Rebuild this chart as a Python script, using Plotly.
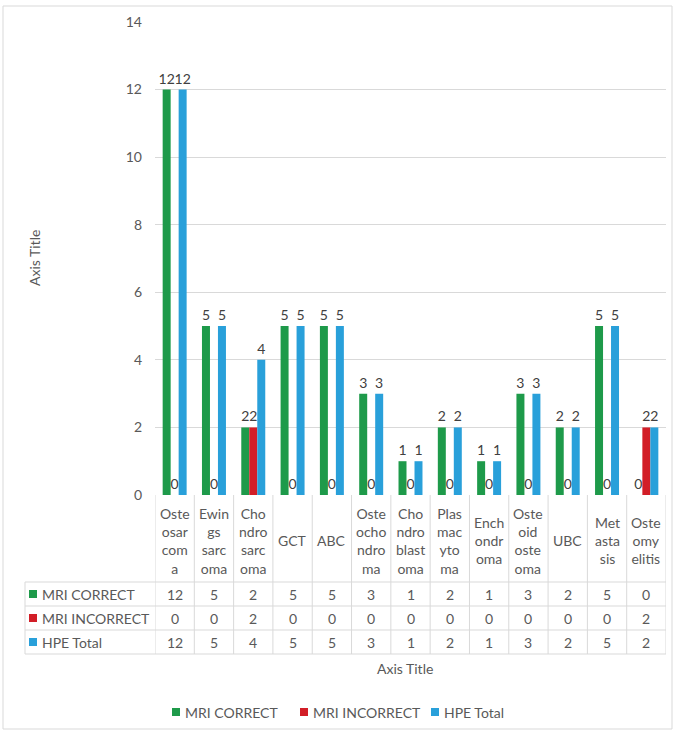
import plotly.graph_objects as go

# Diagnoses (full names) and the wrapped labels shown in the data table header
categories = ["Osteosarcoma", "Ewings sarcoma", "Chondrosarcoma", "GCT", "ABC",
              "Osteochondroma", "Chondroblastoma", "Plasmacytoma", "Enchondroma",
              "Osteoid osteoma", "UBC", "Metastasis", "Osteomyelitis"]
tick_labels = ["Oste<br>osar<br>com<br>a", "Ewin<br>gs<br>sarc<br>oma", "Cho<br>ndro<br>sarc<br>oma",
               "GCT", "ABC", "Oste<br>ocho<br>ndro<br>ma", "Cho<br>ndro<br>blast<br>oma",
               "Plas<br>mac<br>yto<br>ma", "Ench<br>ondr<br>oma", "Oste<br>oid<br>oste<br>oma",
               "UBC", "Met<br>asta<br>sis", "Oste<br>omy<br>elitis"]

series_names = ["MRI CORRECT", "MRI INCORRECT", "HPE Total"]
mri_correct = [12, 5, 2, 5, 5, 3, 1, 2, 1, 3, 2, 5, 0]
mri_incorrect = [0, 0, 2, 0, 0, 0, 0, 0, 0, 0, 0, 0, 2]
hpe_total = [12, 5, 4, 5, 5, 3, 1, 2, 1, 3, 2, 5, 2]
series_values = [mri_correct, mri_incorrect, hpe_total]
series_colors = ["#1E9A4A", "#D21E27", "#29A0DA"]

y_ticks = [0, 2, 4, 6, 8, 10, 12, 14]

W, H = 676, 732
TXT = "#595959"
FONT = "Lato, 'Liberation Sans', sans-serif"
GRID = "#D9D9D9"
FS = 14

def px_x(p):
    return p / W

def px_y(p):
    return 1 - p / H

# Plot-area and table geometry (pixels)
PL, PR, PT, PB = 155, 666, 22, 495
TABLE_LEFT = 25
ROW_EDGES = [582, 606, 630, 654]
LEGEND_Y = 712
LEGEND_KEYS_X = [172, 300, 431]

fig = go.Figure()
x_idx = list(range(len(categories)))
for name, vals, col in zip(series_names, series_values, series_colors):
    fig.add_trace(go.Bar(
        x=x_idx, y=vals, name=name, marker=dict(color=col, line=dict(width=0)),
        text=[str(v) for v in vals], textposition="outside", cliponaxis=False,
        constraintext="none", textfont=dict(size=FS, color="#404040", family=FONT),
        showlegend=False,
    ))

shapes = []
annotations = []

# Vertical separators in the data table
for j in range(len(categories) + 1):
    shapes.append(dict(type="line", xref="x", yref="paper", x0=j - 0.5, x1=j - 0.5,
                       y0=px_y(PB), y1=px_y(ROW_EDGES[-1]), line=dict(color=GRID, width=1)))
# Row separators and left border of the key column
for r in ROW_EDGES:
    shapes.append(dict(type="line", xref="paper", yref="paper", x0=px_x(TABLE_LEFT), x1=px_x(PR),
                       y0=px_y(r), y1=px_y(r), line=dict(color=GRID, width=1)))
shapes.append(dict(type="line", xref="paper", yref="paper", x0=px_x(TABLE_LEFT), x1=px_x(TABLE_LEFT),
                   y0=px_y(ROW_EDGES[0]), y1=px_y(ROW_EDGES[-1]), line=dict(color=GRID, width=1)))
# Chart border
shapes.append(dict(type="rect", xref="paper", yref="paper", x0=px_x(3), x1=px_x(672),
                   y0=px_y(729), y1=px_y(6), line=dict(color=GRID, width=1)))

# Category header cells
for j, lab in enumerate(tick_labels):
    annotations.append(dict(x=j, xref="x", y=px_y((PB + ROW_EDGES[0]) / 2 + 2), yref="paper",
                            text=lab, showarrow=False, xanchor="center", yanchor="middle",
                            font=dict(size=FS, color=TXT, family=FONT), align="center"))

# Table rows: key, series name, values
for i, (name, vals, col) in enumerate(zip(series_names, series_values, series_colors)):
    yc = (ROW_EDGES[i] + ROW_EDGES[i + 1]) / 2
    shapes.append(dict(type="rect", xref="paper", yref="paper", x0=px_x(29), x1=px_x(37),
                       y0=px_y(yc + 4), y1=px_y(yc - 4), fillcolor=col, line=dict(width=0)))
    annotations.append(dict(x=px_x(40), xref="paper", y=px_y(yc), yref="paper", text=name,
                            showarrow=False, xanchor="left", yanchor="middle",
                            font=dict(size=FS, color=TXT, family=FONT)))
    for j, v in enumerate(vals):
        annotations.append(dict(x=j, xref="x", y=px_y(yc), yref="paper", text=str(v),
                                showarrow=False, xanchor="center", yanchor="middle",
                                font=dict(size=FS, color=TXT, family=FONT)))

# Legend below the table
for name, col, kx in zip(series_names, series_colors, LEGEND_KEYS_X):
    shapes.append(dict(type="rect", xref="paper", yref="paper", x0=px_x(kx), x1=px_x(kx + 8),
                       y0=px_y(LEGEND_Y + 4), y1=px_y(LEGEND_Y - 4), fillcolor=col, line=dict(width=0)))
    annotations.append(dict(x=px_x(kx + 11), xref="paper", y=px_y(LEGEND_Y), yref="paper", text=name,
                            showarrow=False, xanchor="left", yanchor="middle",
                            font=dict(size=FS, color=TXT, family=FONT)))

# Axis titles
annotations.append(dict(x=px_x(405), xref="paper", y=px_y(668), yref="paper", text="Axis Title",
                        showarrow=False, xanchor="center", yanchor="middle",
                        font=dict(size=FS, color=TXT, family=FONT)))
annotations.append(dict(x=px_x(34), xref="paper", y=px_y(258), yref="paper", text="Axis Title",
                        showarrow=False, xanchor="center", yanchor="middle", textangle=-90,
                        font=dict(size=FS, color=TXT, family=FONT)))

fig.update_layout(
    width=W, height=H, autosize=False,
    margin=dict(l=0, r=0, t=0, b=0, autoexpand=False),
    paper_bgcolor="white", plot_bgcolor="white",
    barmode="group", bargap=0.39, bargroupgap=0,
    font=dict(family=FONT, color=TXT, size=FS),
    showlegend=False,
    xaxis=dict(domain=[px_x(PL), px_x(PR)], range=[-0.5, len(categories) - 0.5],
               showticklabels=False, showgrid=False, zeroline=False, showline=False, ticks=""),
    yaxis=dict(domain=[px_y(PB), px_y(PT)], range=[0, 14], tickvals=y_ticks,
               showgrid=True, gridcolor=GRID, gridwidth=1, zeroline=False, showline=False,
               ticks="", ticklabelstandoff=12, automargin=False,
               tickfont=dict(size=FS, color=TXT, family=FONT)),
    shapes=shapes, annotations=annotations,
)

fig.write_html("out.html", config={"displayModeBar": False})
